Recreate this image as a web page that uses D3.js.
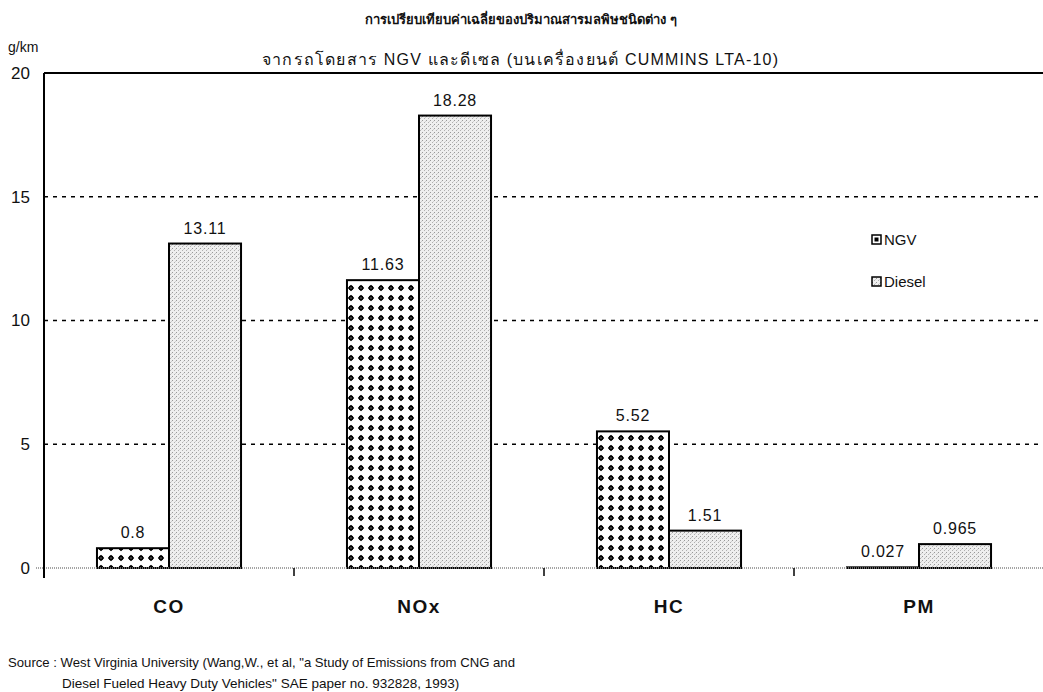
<!DOCTYPE html>
<html>
<head>
<meta charset="utf-8">
<script src="https://cdn.jsdelivr.net/npm/d3@7"></script>
<style>
  html, body { margin: 0; padding: 0; background: #fff; }
  svg { display: block; }
  text { font-family: Arial, "Liberation Sans", sans-serif; fill: #111; }
</style>
</head>
<body>
<svg id="chart" width="1043" height="692"></svg>
<script>
// Pollutant categories and average emissions (g/km) per fuel type
const categories = ["CO", "NOx", "HC", "PM"];
const seriesNames = ["NGV", "Diesel"];
const ngvValues = [0.8, 11.63, 5.52, 0.027];
const dieselValues = [13.11, 18.28, 1.51, 0.965];
const valueLabels = [["0.8", "11.63", "5.52", "0.027"], ["13.11", "18.28", "1.51", "0.965"]];
const yTicks = [0, 5, 10, 15, 20];
const titleLines = [
  "การเปรียบเทียบค่าเฉลี่ยของปริมาณสารมลพิษชนิดต่าง ๆ",
  "จากรถโดยสาร NGV และดีเซล (บนเครื่องยนต์ CUMMINS LTA-10)"
];
const sourceLines = [
  "Source : West Virginia University (Wang,W., et al, \"a Study of Emissions from CNG and",
  "Diesel Fueled Heavy Duty Vehicles\" SAE paper no. 932828, 1993)"
];

const svg = d3.select("#chart");
const margin = { left: 44, right: 0, top: 73, bottom: 124 };
const W = 1043, H = 692;
const plotH = H - margin.top - margin.bottom;

// Fill patterns: dotted grid for NGV, fine grey stipple for Diesel
const defs = svg.append("defs");
const pNgv = defs.append("pattern").attr("id", "pat-ngv").attr("patternUnits", "userSpaceOnUse")
  .attr("width", 10).attr("height", 10).attr("x", 2).attr("y", 3);
pNgv.append("rect").attr("width", 10).attr("height", 10).attr("fill", "#fff");
pNgv.append("path").attr("d", "M5,1.8 L8.2,5 L5,8.2 L1.8,5 Z").attr("fill", "#000");
pNgv.append("circle").attr("cx", 5).attr("cy", 5).attr("r", 2.4).attr("fill", "#000");
pNgv.append("circle").attr("cx", 5).attr("cy", 5).attr("r", 0.8).attr("fill", "#777");

const pDsl = defs.append("pattern").attr("id", "pat-diesel").attr("patternUnits", "userSpaceOnUse")
  .attr("width", 4).attr("height", 4);
pDsl.append("rect").attr("width", 4).attr("height", 4).attr("fill", "#efefef");
pDsl.append("rect").attr("x", 0).attr("y", 0).attr("width", 1).attr("height", 1).attr("fill", "#999");
pDsl.append("rect").attr("x", 2).attr("y", 2).attr("width", 1).attr("height", 1).attr("fill", "#b0b0b0");
pDsl.append("rect").attr("x", 3).attr("y", 1).attr("width", 1).attr("height", 1).attr("fill", "#cfcfcf");

const fills = ["url(#pat-ngv)", "url(#pat-diesel)"];

const x0 = d3.scaleBand().domain(categories).range([margin.left, margin.left + 1000]).paddingInner(0).paddingOuter(0);
const x1 = d3.scaleBand().domain(seriesNames).range([0, x0.bandwidth()]).paddingOuter(0.7353).paddingInner(0);
const y = d3.scaleLinear().domain([0, 20]).range([margin.top + plotH, margin.top]);

// Grid lines
const grid = svg.append("g");
grid.selectAll("line.grid").data(yTicks.filter(t => t > 0 && t < 20)).join("line")
  .attr("x1", margin.left).attr("x2", W)
  .attr("y1", d => y(d)).attr("y2", d => y(d))
  .attr("stroke", "#000").attr("stroke-width", 1.5).attr("stroke-dasharray", "4,5");
// top border
grid.append("line").attr("x1", margin.left).attr("x2", W).attr("y1", y(20)).attr("y2", y(20))
  .attr("stroke", "#000").attr("stroke-width", 2);

// Bars
const data = categories.map((c, i) => ({ cat: c, vals: [ngvValues[i], dieselValues[i]] }));
const groups = svg.append("g").selectAll("g").data(data).join("g")
  .attr("transform", d => `translate(${x0(d.cat)},0)`);
groups.selectAll("rect").data((d, ci) => d.vals.map((v, si) => ({ v, si, ci }))).join("rect")
  .attr("x", d => x1(seriesNames[d.si]))
  .attr("width", x1.bandwidth())
  .attr("y", d => y(d.v))
  .attr("height", d => y(0) - y(d.v))
  .attr("fill", d => fills[d.si])
  .attr("stroke", "#000").attr("stroke-width", 2);

// Value labels
groups.selectAll("text.val").data((d, ci) => d.vals.map((v, si) => ({ v, si, ci }))).join("text")
  .attr("class", "val")
  .attr("x", d => x1(seriesNames[d.si]) + x1.bandwidth() / 2)
  .attr("y", d => y(d.v) - 10)
  .attr("text-anchor", "middle").attr("font-size", 16).attr("letter-spacing", 0.8)
  .text(d => valueLabels[d.si][d.ci]);

// Baseline (dotted grey) and category ticks
svg.append("line").attr("x1", margin.left - 8).attr("x2", W).attr("y1", y(0)).attr("y2", y(0))
  .attr("stroke", "#888").attr("stroke-width", 1.5).attr("stroke-dasharray", "1,1");
svg.append("g").selectAll("line").data(categories.slice(1)).join("line")
  .attr("x1", d => x0(d)).attr("x2", d => x0(d))
  .attr("y1", y(0)).attr("y2", y(0) + 8)
  .attr("stroke", "#000").attr("stroke-width", 1.5);

// Y axis
const yAxis = svg.append("g").attr("transform", `translate(${margin.left},0)`)
  .call(d3.axisLeft(y).tickValues(yTicks).tickSize(0).tickPadding(14));
yAxis.select(".domain").remove();
yAxis.append("line").attr("x1", 0).attr("x2", 0).attr("y1", y(20)).attr("y2", y(0) + 10)
  .attr("stroke", "#000").attr("stroke-width", 2);
yAxis.selectAll("text").attr("font-size", 17).attr("fill", "#222")
  .attr("font-family", "Arial, 'Liberation Sans', sans-serif");

// X category labels
svg.append("g").selectAll("text").data(categories).join("text")
  .attr("x", d => x0(d) + x0.bandwidth() / 2)
  .attr("y", y(0) + 45)
  .attr("text-anchor", "middle").attr("font-size", 19).attr("font-weight", "bold")
  .attr("letter-spacing", 1.5)
  .text(d => d);

// Unit label
svg.append("text").attr("x", 8).attr("y", 52).attr("font-size", 14).attr("fill", "#222").text("g/km");

// Titles
svg.append("text").attr("x", 521).attr("y", 24).attr("text-anchor", "middle")
  .attr("font-size", 13).attr("font-weight", "bold")
  .attr("font-family", "'Noto Serif Thai','Noto Sans Thai','Liberation Serif',serif")
  .text(titleLines[0]);
svg.append("text").attr("x", 262).attr("y", 65)
  .attr("font-size", 16)
  .attr("textLength", 516).attr("lengthAdjust", "spacing")
  .attr("font-family", "'Noto Serif Thai','Noto Sans Thai','Liberation Serif',serif")
  .text(titleLines[1]);

// Legend
const legend = svg.append("g").attr("transform", "translate(872,240)");
seriesNames.forEach((s, i) => {
  const g = legend.append("g").attr("transform", `translate(0,${i * 42})`);
  g.append("rect").attr("x", 0).attr("y", -5).attr("width", 9).attr("height", 9)
    .attr("fill", i === 0 ? "#fff" : fills[1]).attr("stroke", "#000").attr("stroke-width", 1.5);
  if (i === 0) {
    g.append("rect").attr("x", 2.5).attr("y", -2.5).attr("width", 4).attr("height", 4).attr("fill", "#000");
  }
  g.append("text").attr("x", 12).attr("y", 0).attr("dy", "0.35em").attr("font-size", 15).text(s);
});

// Source note
svg.append("text").attr("x", 8).attr("y", 667).attr("font-size", 13.5).attr("fill", "#333")
  .attr("textLength", 507).attr("lengthAdjust", "spacingAndGlyphs").text(sourceLines[0]);
svg.append("text").attr("x", 62).attr("y", 688).attr("font-size", 13.5).attr("fill", "#333").text(sourceLines[1]);
</script>
</body>
</html>
